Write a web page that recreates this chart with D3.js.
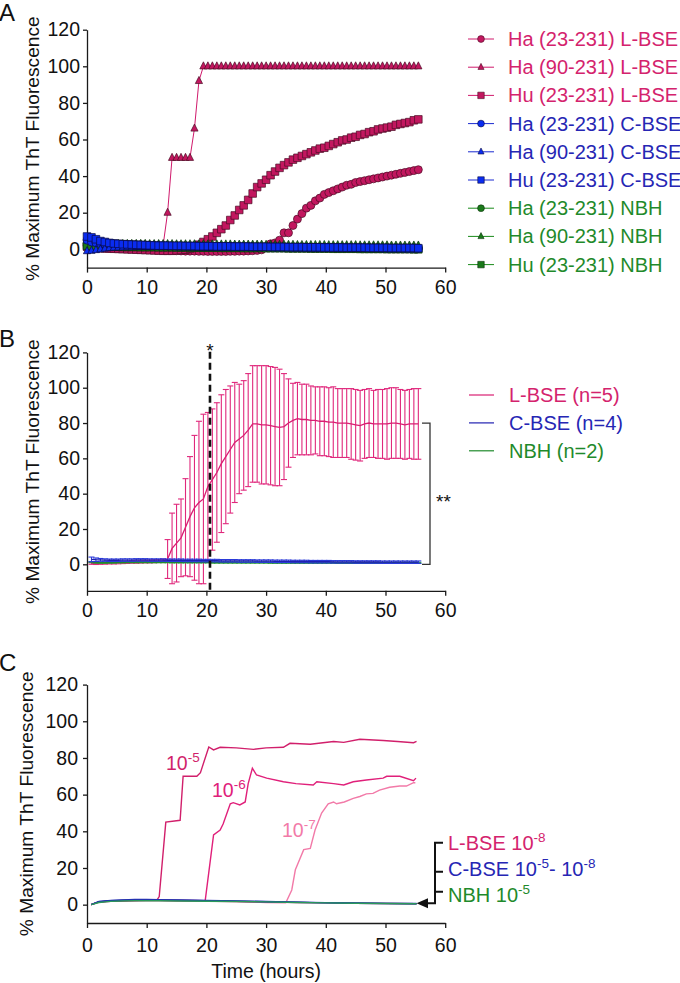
<!DOCTYPE html>
<html><head><meta charset="utf-8">
<script src="https://cdn.jsdelivr.net/npm/d3@7"></script>
<style>body{margin:0;background:#fff} svg{display:block} text{font-family:"Liberation Sans",Arial,sans-serif}</style>
</head><body><svg id="c" width="680" height="983"></svg>
<script>
// ---------------- DATA ----------------
const xTicks = [0,10,20,30,40,50,60];
const yTicks = [0,20,40,60,80,100,120];

// Panel A (time in hours)
const tA = [0,0.75,1.5,2.25,3,3.75,4.5,5.25,6,6.75,7.5,8.25,9,9.75,10.5,11.25,12,12.75,13.5,14.25,15,15.75,16.5,17.25,18,18.75,19.5,20.25,21,21.75,22.5,23.25,24,24.75,25.5,26.25,27,27.75,28.5,29.25,30,30.75,31.5,32.25,33,33.75,34.5,35.25,36,36.75,37.5,38.25,39,39.75,40.5,41.25,42,42.75,43.5,44.25,45,45.75,46.5,47.25,48,48.75,49.5,50.25,51,51.75,52.5,53.25,54,54.75,55.5];
const ha23L = [2,1.5,1,0.8,0.6,0.5,0.4,0.3,0.3,0.2,0.2,0.1,0,0,-0.2,-0.3,-0.4,-0.5,-0.6,-0.7,-0.8,-0.9,-1,-1,-1,-1.1,-1.1,-1.2,-1.2,-1.2,-1.2,-1.2,-1.1,-1.1,-1,-1,-0.9,-0.8,-0.6,-0.3,
  1,3,3.5,5,9,9,13,16.5,19.5,22.5,24,26.5,28,30,31,32,33,34,35,35.5,36.5,37,37.5,38,38.5,39,39.5,40,40.5,41,41.5,42,42.5,43,43.5];
const ha90L = [3.5,3,3,2.8,2.7,2.6,2.5,2.5,2.5,2.5,2.5,2.5,2.5,2.4,2.4,2.3,2.3,2.2,20,50,50,50,50,50,66,92,
  100,100,100,100,100,100,100,100,100,100,100,100,100,100,100,100,100,100,100,100,100,100,100,100,100,100,100,100,100,100,100,100,100,100,100,100,100,100,100,100,100,100,100,100,100,100,100,100,100];
const hu23L = [1.5,1,0.8,0.6,0.5,0.4,0.3,0.2,0.1,0,-0.1,-0.2,-0.3,-0.4,-0.5,-0.6,-0.7,-0.8,-0.8,-0.8,-0.6,-0.4,-0.2,0.4,1.2,
  2.5,4,5.5,7,9,11,13,16,18.5,21.5,24,27,30.5,34,36,38,40.5,42.5,44.5,46,47.5,49,50,51,52,53,54,55,55.5,56.5,57.5,58.5,59.5,60,61,61.5,62.5,63,64,64.5,65.5,66,66.5,67,68,68.5,69,69.5,70.5,71];
const ha23C = [5,4,3.5,3,2.8,2.6,2.5,2.4,2.3,2.2,2.2,2.1,2,2,2,1.9,1.9,1.8,1.8,1.8,1.7,1.7,1.7,1.6,1.6,1.6,1.5,1.5,1.5,1.5,1.4,1.4,1.4,1.4,1.3,1.3,1.3,1.3,1.2,1.2,1.2,1.2,1.1,1.1,1.1,1.1,1,1,1,1,1,0.9,0.9,0.9,0.9,0.9,0.8,0.8,0.8,0.8,0.8,0.7,0.7,0.7,0.7,0.7,0.6,0.6,0.6,0.6,0.6,0.5,0.5,0.5,0.5];
const ha90C = [-1,-0.8,-0.4,0,0.4,0.7,0.9,1,1.1,1.2,1.2,1.3,1.3,1.3,1.3,1.3,1.3,1.3,1.3,1.3,1.2,1.2,1.2,1.2,1.2,1.2,1.2,1.2,1.1,1.1,1.1,1.1,1.1,1.1,1.1,1,1,1,1,1,1,1,0.9,0.9,0.9,0.9,0.9,0.9,0.9,0.8,0.8,0.8,0.8,0.8,0.8,0.8,0.7,0.7,0.7,0.7,0.7,0.7,0.6,0.6,0.6,0.6,0.6,0.6,0.5,0.5,0.5,0.5,0.5,0.5,0.4];
const hu23C = [7,6.5,5.5,4.5,4,3.5,3.2,3,2.8,2.7,2.6,2.5,2.4,2.3,2.2,2.1,2,2,2,1.9,1.9,1.9,1.8,1.8,1.8,1.7,1.7,1.7,1.7,1.6,1.6,1.6,1.6,1.5,1.5,1.5,1.5,1.4,1.4,1.4,1.4,1.3,1.3,1.3,1.3,1.2,1.2,1.2,1.2,1.1,1.1,1.1,1.1,1,1,1,1,1,0.9,0.9,0.9,0.9,0.9,0.8,0.8,0.8,0.8,0.8,0.7,0.7,0.7,0.7,0.7,0.7,0.6];
const ha23N = [3,2.5,2.2,2,2,1.9,1.9,1.8,1.8,1.8,1.7,1.7,1.7,1.7,1.6,1.6,1.6,1.6,1.5,1.5,1.5,1.5,1.5,1.4,1.4,1.4,1.4,1.4,1.3,1.3,1.3,1.3,1.3,1.2,1.2,1.2,1.2,1.2,1.1,1.1,1.1,1.1,1.1,1,1,1,1,1,1,0.9,0.9,0.9,0.9,0.9,0.9,0.8,0.8,0.8,0.8,0.8,0.8,0.7,0.7,0.7,0.7,0.7,0.7,0.6,0.6,0.6,0.6,0.6,0.6,0.5,0.5];
const ha90N = [2.5,3,3.2,3.2,3.2,3.1,3.1,3,3,3,3,3,3,3,2.9,2.9,2.9,2.9,2.9,2.9,2.8,2.8,2.8,2.8,2.8,2.8,2.8,2.7,2.7,2.7,2.7,2.7,2.7,2.6,2.6,2.6,2.6,2.6,2.6,2.6,2.5,2.5,2.5,2.5,2.5,2.5,2.5,2.4,2.4,2.4,2.4,2.4,2.4,2.4,2.3,2.3,2.3,2.3,2.3,2.3,2.3,2.2,2.2,2.2,2.2,2.2,2.2,2.2,2.1,2.1,2.1,2.1,2.1,2.1,2.1];
const hu23N = [2,1.8,1.6,1.5,1.5,1.4,1.4,1.4,1.3,1.3,1.3,1.3,1.2,1.2,1.2,1.2,1.1,1.1,1.1,1.1,1,1,1,1,1,0.9,0.9,0.9,0.9,0.9,0.8,0.8,0.8,0.8,0.8,0.7,0.7,0.7,0.7,0.7,0.6,0.6,0.6,0.6,0.6,0.5,0.5,0.5,0.5,0.5,0.4,0.4,0.4,0.4,0.4,0.3,0.3,0.3,0.3,0.3,0.3,0.2,0.2,0.2,0.2,0.2,0.2,0.1,0.1,0.1,0.1,0.1,0.1,0,0];
const legendA = ["Ha (23-231) L-BSE","Ha (90-231) L-BSE","Hu (23-231) L-BSE","Ha (23-231) C-BSE","Ha (90-231) C-BSE","Hu (23-231) C-BSE","Ha (23-231) NBH","Ha (90-231) NBH","Hu (23-231) NBH"];

// Panel B (mean and SD)
const tB = [0.75,1.5,2.25,3,3.75,4.5,5.25,6,6.75,7.5,8.25,9,9.75,10.5,11.25,12,12.75,13.5,14.25,15,15.75,16.5,17.25,18,18.75,19.5,20.25,21,21.75,22.5,23.25,24,24.75,25.5,26.25,27,27.75,28.5,29.25,30,30.75,31.5,32.25,33,33.75,34.5,35.25,36,36.75,37.5,38.25,39,39.75,40.5,41.25,42,42.75,43.5,44.25,45,45.75,46.5,47.25,48,48.75,49.5,50.25,51,51.75,52.5,53.25,54,54.75,55.5];
const lMean = [0.5,0.4,0.5,0.6,0.7,0.8,0.9,1,1.1,1.3,1.3,1.4,1.5,1.6,1.7,1.8,2,3,9,12,15,21,27,32,35,37,44,48,52,57,61,65,69,71,73,76,79.5,79.5,79,79,78.5,78,77.5,78,80,81.5,82.5,82,82,81.5,81.5,81,81,80.5,80.5,80,80,80,79.5,79,78.5,79.5,80,79.5,79.5,79.5,79.5,80,80,79.5,79,79.5,79.5,79.5];
const lSD = [0.5,0.5,0.5,0.5,0.5,0.6,0.6,0.6,0.6,0.7,0.7,0.7,0.7,0.8,0.8,0.8,1,11,20,22,22,27.5,34,41,46,48,42,40,39.5,39,38,36,34,31,31,32,33,33,33.5,33.5,33.5,33.5,33,30,25,21,20.5,20,20,19.5,19,19.5,19.5,19.5,20,19.5,19.5,19.5,20,20,20,19.5,19.5,19,19.5,19.5,20,20,20,19.5,19.5,19.5,20,20];
const cMean = [2.8,2.6,2.5,2.4,2.3,2.3,2.3,2.4,2.4,2.4,2.5,2.5,2.5,2.4,2.4,2.4,2.4,2.3,2.3,2.3,2.3,2.2,2.2,2.2,2.2,2.1,2.1,2.1,2.1,2,2,2,2,1.9,1.9,1.9,1.9,1.8,1.8,1.8,1.8,1.7,1.7,1.7,1.7,1.6,1.6,1.6,1.6,1.5,1.5,1.5,1.5,1.5,1.4,1.4,1.4,1.4,1.4,1.3,1.3,1.3,1.3,1.3,1.3,1.2,1.2,1.2,1.2,1.2,1.2,1.2,1.2,1.2];
const cSD = [1.3,1,0.8,0.7,0.7,0.7,0.7,0.7,0.7,0.7,0.7,0.7,0.7,0.7,0.7,0.7,0.7,0.7,0.7,0.7,0.7,0.7,0.7,0.7,0.7,0.7,0.7,0.7,0.7,0.7,0.7,0.7,0.7,0.7,0.7,0.7,0.7,0.7,0.7,0.7,0.7,0.7,0.7,0.7,0.7,0.7,0.7,0.7,0.7,0.7,0.7,0.7,0.7,0.7,0.7,0.7,0.7,0.7,0.7,0.7,0.7,0.7,0.7,0.7,0.7,0.7,0.7,0.7,0.7,0.7,0.7,0.7,0.7,0.7];
const nMean = [1.2,1,0.9,0.9,1,1,1.1,1.1,1.2,1.2,1.2,1.2,1.2,1.2,1.2,1.2,1.2,1.2,1.1,1.1,1.1,1.1,1.1,1.1,1.1,1.1,1.1,1,1,1,1,1,1,1,1,1,1,1,1,1,0.9,0.9,0.9,0.9,0.9,0.9,0.9,0.9,0.9,0.9,0.9,0.9,0.9,0.9,0.9,0.8,0.8,0.8,0.8,0.8,0.8,0.8,0.8,0.8,0.8,0.8,0.8,0.8,0.8,0.8,0.8,0.8,0.8,0.8];
const nSD = [0.3,0.3,0.3,0.3,0.3,0.3,0.3,0.3,0.3,0.3,0.3,0.3,0.3,0.3,0.3,0.3,0.3,0.3,0.3,0.3,0.3,0.3,0.3,0.3,0.3,0.3,0.3,0.3,0.3,0.3,0.3,0.3,0.3,0.3,0.3,0.3,0.3,0.3,0.3,0.3,0.3,0.3,0.3,0.3,0.3,0.3,0.3,0.3,0.3,0.3,0.3,0.3,0.3,0.3,0.3,0.3,0.3,0.3,0.3,0.3,0.3,0.3,0.3,0.3,0.3,0.3,0.3,0.3,0.3,0.3,0.3,0.3,0.3,0.3];
const legendB = ["L-BSE (n=5)","C-BSE (n=4)","NBH (n=2)"];
const dashedT = 20.6;

// Panel C
const tC5 = [0.7,2,4,6,8,10,11.7,12.1,13.2,15.6,16.1,18.4,19,20.4,21.2,22.3,25,27.9,30,32.9,34,37.4,41.3,43,45.7,49.6,52,54.7,55.2];
const vC5 = [0,1.5,2,2.3,2.5,2.5,2.5,4.4,45,46,70,70,72,86,84.4,85.8,85.5,84.7,85.5,85.8,88,87.5,89,88.5,90.2,89.5,89,88.3,89];
const tC6 = [0.7,2,5,10,15,19.8,21.2,22.3,22.8,24,24.5,25.6,26.5,27,27.7,28.4,30.1,32.9,35,37.9,38.5,41.3,43,44.6,46.8,49.6,50.2,52.4,54.7,55.1];
const vC6 = [0,1.5,2,2.5,2.3,2.2,38,40.7,44,55,55.6,54.4,56,66,74.4,70.7,69,67,66,65.3,67,66,65.3,67,68,69,70,70,67.6,69];
const tC7 = [0.7,2,5,10,20,30,33.3,34.3,34.9,36.3,37.4,38.2,39.3,40.4,41.3,41.8,43.1,44.6,45.7,46.8,47.9,49,50.7,52.4,53.5,54.7,55];
const vC7 = [0,1.5,2,2.3,2,1.2,1,8,19,30,30.7,40.7,50,55,56,55,56,58,59,60.4,60.7,62.5,64,64.7,64.7,66.5,66.5];
const tC0 = [0.7,2,4,6,8,10,12,15,20,25,30,35,40,45,50,55.2];
const vL8 = [0,1.5,2,2.2,2.3,2.4,2.4,2.3,2.1,1.8,1.5,1.2,1,0.8,0.6,0.5];
const vCb1 = [0,1.8,2.3,2.6,2.8,2.8,2.7,2.6,2.3,2,1.7,1.4,1.1,0.9,0.7,0.6];
const vCb2 = [0,1.6,2.1,2.4,2.5,2.5,2.5,2.4,2.2,1.9,1.6,1.3,1,0.8,0.6,0.5];
const vN5 = [0,1.2,1.8,2,2.1,2.1,2.1,2,1.9,1.7,1.5,1.2,1,0.8,0.6,0.5];

// ---------------- STYLE ----------------
const PINK = "#d4236d", BLUE = "#2626b4", GREEN = "#1f8a2b";
const FILL = {pink:"#c2175f", blue:"#0a2cf0", green:"#1a7a1a"};
const EDGE = {pink:"#4a0d25", blue:"#0a0a40", green:"#0a300a"};
const LINE = {pink:"#d01a6c", blue:"#1a2ad0", green:"#1a8a1a"};

const svg = d3.select("#c");
const x = d3.scaleLinear().domain([0,60]).range([87,445.2]);
const yA = d3.scaleLinear().domain([-10,120]).range([267.6,29.7]);
const yB = d3.scaleLinear().domain([-15,120]).range([590.8,352.4]);
const yC = d3.scaleLinear().domain([-10,120]).range([923,684.6]);

function axes(y, xPad, yPad, titleX, letter, letterY, xTitle) {
  const gx = svg.append("g").attr("transform",`translate(0,${y.range()[0]})`)
    .call(d3.axisBottom(x).tickValues(xTicks).tickSize(5).tickSizeOuter(0).tickPadding(xPad));
  const gy = svg.append("g").attr("transform",`translate(${x(0)},0)`)
    .call(d3.axisLeft(y).tickValues(yTicks).tickSize(4).tickSizeOuter(0).tickPadding(yPad));
  [gx,gy].forEach(g=>{
    g.selectAll("path,line").attr("stroke","#1a1a1a").attr("stroke-width",1.3);
    g.selectAll("text").attr("font-size",19.5).attr("fill","#111").attr("font-family",'"Liberation Sans",Arial,sans-serif');
  });
  const cy = (y.range()[0]+y(120))/2;
  svg.append("text").attr("transform",`translate(${titleX},${cy}) rotate(-90)`)
    .attr("text-anchor","middle").attr("dy","0.35em").attr("font-size",19.2).attr("fill","#111")
    .text("% Maximum ThT Fluorescence");
  svg.append("text").attr("x",-1).attr("y",letterY).attr("font-size",24).attr("fill","#111").text(letter);
  if (xTitle) svg.append("text").attr("x",x(30)).attr("y",978).attr("text-anchor","middle")
    .attr("font-size",19.5).attr("fill","#111").text(xTitle);
}

function sym(shape) {
  if (shape==="circle") return "M4,0A4,4 0 1,1 -4,0A4,4 0 1,1 4,0Z";
  if (shape==="square") return "M-3.8,-3.8H3.8V3.8H-3.8Z";
  return "M0,-4.5L3.6,2.6H-3.6Z";
}

// ---------------- PANEL A ----------------
axes(yA, 8, 3, 32, "A", 20.7);
const seriesA = [
  {v:ha23L,c:"pink",s:"circle"},{v:ha90L,c:"pink",s:"triangle"},{v:hu23L,c:"pink",s:"square"},
  {v:ha23N,c:"green",s:"circle"},{v:ha90N,c:"green",s:"triangle"},{v:hu23N,c:"green",s:"square"},
  {v:ha23C,c:"blue",s:"circle"},{v:ha90C,c:"blue",s:"triangle"},{v:hu23C,c:"blue",s:"square"}
];
const lineA = d3.line().x((d,i)=>x(tA[i])).y(d=>yA(d));
seriesA.forEach(s=>{
  svg.append("path").attr("d",lineA(s.v)).attr("fill","none").attr("stroke",LINE[s.c]).attr("stroke-width",1);
  svg.append("g").selectAll("path").data(s.v).join("path")
    .attr("transform",(d,i)=>`translate(${x(tA[i])},${yA(d)})`)
    .attr("d",sym(s.s)).attr("fill",FILL[s.c]).attr("stroke",EDGE[s.c]).attr("stroke-width",0.7);
});
const legA = [["pink","circle"],["pink","triangle"],["pink","square"],["blue","circle"],["blue","triangle"],["blue","square"],["green","circle"],["green","triangle"],["green","square"]];
const txtCol = {pink:PINK, blue:BLUE, green:GREEN};
legendA.forEach((lab,i)=>{
  const cy = 39 + i*28.2, [c,s] = legA[i];
  svg.append("line").attr("x1",468).attr("x2",494).attr("y1",cy).attr("y2",cy).attr("stroke",LINE[c]).attr("stroke-width",1);
  svg.append("path").attr("transform",`translate(481,${cy}) scale(0.85)`).attr("d",sym(s)).attr("fill",FILL[c]).attr("stroke",EDGE[c]).attr("stroke-width",0.7);
  svg.append("text").attr("x",508).attr("y",cy+7).attr("font-size",20).attr("fill",txtCol[c]).text(lab);
});

// ---------------- PANEL B ----------------
axes(yB, 7, 3, 32, "B", 346.7);
function errSeries(m, sd, col, lcol) {
  const g = svg.append("g").attr("stroke",col).attr("stroke-width",1.1).attr("fill","none");
  m.forEach((v,i)=>{
    const xx = x(tB[i]), y1 = yB(v+sd[i]), y2 = yB(v-sd[i]);
    g.append("line").attr("x1",xx).attr("x2",xx).attr("y1",y1).attr("y2",y2);
    g.append("line").attr("x1",xx-3).attr("x2",xx+3).attr("y1",y1).attr("y2",y1);
    g.append("line").attr("x1",xx-3).attr("x2",xx+3).attr("y1",y2).attr("y2",y2);
  });
  svg.append("path").attr("d",d3.line().x((d,i)=>x(tB[i])).y(d=>yB(d))(m))
    .attr("fill","none").attr("stroke",lcol).attr("stroke-width",1.3);
}
errSeries(lMean, lSD, "#e0287c", "#d91e72");
errSeries(nMean, nSD, "#2a9a3a", "#1f8a2b");
errSeries(cMean, cSD, "#2a3ad8", "#2020b0");
svg.append("line").attr("x1",x(dashedT)).attr("x2",x(dashedT)).attr("y1",351.7).attr("y2",yB(-15))
  .attr("stroke","#111").attr("stroke-width",2.6).attr("stroke-dasharray","7,4");
svg.append("text").attr("x",x(dashedT)).attr("y",356.8).attr("text-anchor","middle").attr("font-size",19).attr("fill","#111").text("*");
svg.append("path").attr("d",`M422,${yB(80)}H430V${yB(0)}H422`).attr("fill","none").attr("stroke","#333").attr("stroke-width",1.3);
svg.append("text").attr("x",436).attr("y",508).attr("font-size",19).attr("fill","#111").text("**");
const legBcol = [PINK, BLUE, GREEN], legBline = ["#d91e72","#2020b0","#1f8a2b"];
legendB.forEach((lab,i)=>{
  const cy = 395 + i*27.9;
  svg.append("line").attr("x1",469).attr("x2",494).attr("y1",cy).attr("y2",cy).attr("stroke",legBline[i]).attr("stroke-width",1.2);
  svg.append("text").attr("x",509).attr("y",cy+7).attr("font-size",20).attr("fill",legBcol[i]).text(lab);
});

// ---------------- PANEL C ----------------
axes(yC, 10, 5, 26.7, "C", 670.7, "Time (hours)");
const lineC = (t)=>d3.line().x((d,i)=>x(t[i])).y(d=>yC(d));
[[tC7,vC7,"#f27aa8"],[tC6,vC6,"#e0207a"],[tC5,vC5,"#d11f6b"]].forEach(([t,v,c])=>{
  svg.append("path").attr("d",lineC(t)(v)).attr("fill","none").attr("stroke",c).attr("stroke-width",1.4);
});
[[vL8,"#e0207a"],[vCb1,"#2a2ab8"],[vCb2,"#1a3aa8"],[vN5,"#2a9a5a"]].forEach(([v,c])=>{
  svg.append("path").attr("d",lineC(tC0)(v)).attr("fill","none").attr("stroke",c).attr("stroke-width",1.4);
});
function supLabel(xx, yy, col, parts, fs) {
  fs = fs || 19.5;
  const t = svg.append("text").attr("x",xx).attr("y",yy).attr("font-size",fs).attr("fill",col);
  parts.forEach(([s,sup],j)=>{
    t.append("tspan").attr("font-size",sup?13.5:fs).attr("dy",sup?-8:(j? 8:0)).text(s);
  });
}
supLabel(166, 770, "#d11f6b", [["10",0],["-5",1]]);
supLabel(212, 797, "#e0207a", [["10",0],["-6",1]]);
supLabel(282, 837, "#f27aa8", [["10",0],["-7",1]]);
// bracket + arrow
svg.append("path").attr("d","M443,842.7H435V903.3H427M435,871.7H443M435,891.7H443")
  .attr("fill","none").attr("stroke","#111").attr("stroke-width",2);
svg.append("path").attr("d","M416.5,903.3L428,898.3V908.3Z").attr("fill","#111");
supLabel(448, 849.5, PINK, [["L-BSE 10",0],["-8",1]], 20);
supLabel(448, 875.5, BLUE, [["C-BSE 10",0],["-5",1],["- 10",0],["-8",1]], 20);
supLabel(448, 901.5, GREEN, [["NBH 10",0],["-5",1]], 20);
</script></body></html>
